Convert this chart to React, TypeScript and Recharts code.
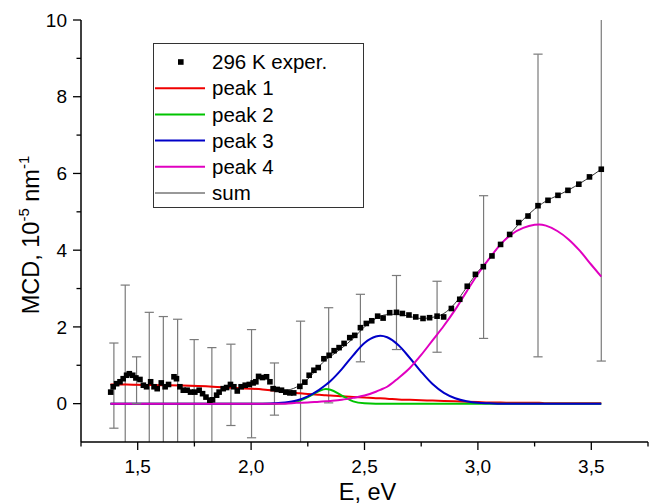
import React from 'react';
import { ComposedChart, Line, Scatter, ErrorBar, XAxis, YAxis, Label } from 'recharts';

// Experimental points (E in eV, MCD in 1e-5 nm^-1)
const expE = [1.381, 1.392, 1.407, 1.422, 1.436, 1.451, 1.463, 1.478, 1.492, 1.510, 1.525, 1.539, 1.557, 1.572, 1.586, 1.604, 1.621, 1.636, 1.660, 1.671, 1.686, 1.701, 1.718, 1.733, 1.752, 1.771, 1.786, 1.801, 1.818, 1.830, 1.848, 1.859, 1.877, 1.892, 1.909, 1.924, 1.939, 1.956, 1.974, 1.992, 2.009, 2.021, 2.033, 2.050, 2.068, 2.083, 2.097, 2.115, 2.134, 2.153, 2.171, 2.188, 2.215, 2.237, 2.256, 2.277, 2.296, 2.321, 2.344, 2.366, 2.388, 2.410, 2.435, 2.457, 2.482, 2.508, 2.532, 2.558, 2.582, 2.611, 2.641, 2.667, 2.696, 2.726, 2.758, 2.787, 2.820, 2.849, 2.883, 2.920, 2.953, 2.989, 3.024, 3.062, 3.100, 3.140, 3.180, 3.221, 3.265, 3.309, 3.353, 3.397, 3.445, 3.492, 3.544];
const expV = [0.30, 0.44, 0.52, 0.57, 0.65, 0.74, 0.78, 0.74, 0.67, 0.63, 0.48, 0.44, 0.57, 0.44, 0.39, 0.54, 0.44, 0.50, 0.70, 0.65, 0.44, 0.35, 0.35, 0.30, 0.30, 0.35, 0.26, 0.17, 0.09, 0.10, 0.22, 0.30, 0.39, 0.42, 0.50, 0.44, 0.33, 0.44, 0.48, 0.50, 0.54, 0.57, 0.71, 0.68, 0.70, 0.57, 0.39, 0.37, 0.35, 0.30, 0.28, 0.28, 0.45, 0.56, 0.74, 0.87, 0.94, 1.17, 1.26, 1.38, 1.46, 1.57, 1.72, 1.78, 1.98, 2.09, 2.16, 2.28, 2.23, 2.37, 2.38, 2.35, 2.31, 2.26, 2.22, 2.24, 2.28, 2.26, 2.48, 2.72, 3.06, 3.37, 3.57, 3.85, 4.15, 4.41, 4.72, 4.89, 5.16, 5.30, 5.43, 5.56, 5.72, 5.91, 6.11];

// Error bars: position, centre value, half-length
const errE = [1.395, 1.445, 1.495, 1.551, 1.613, 1.676, 1.749, 1.827, 1.911, 2.002, 2.103, 2.218, 2.342, 2.482, 2.641, 2.820, 3.025, 3.265, 3.544];
const errV = [0.47, 0.70, 0.61, 0.50, 0.50, 0.55, 0.33, 0.10, 0.49, 0.52, 0.38, 0.45, 1.26, 1.97, 2.375, 2.265, 3.56, 5.165, 6.11];
const errHalf = [1.11, 2.39, 0.61, 1.88, 1.77, 1.65, 1.34, 1.36, 1.06, 1.41, 0.68, 1.70, 1.24, 0.88, 0.965, 0.925, 1.86, 3.945, 5.0];

// Fitted curves
const curveE = [1.38, 1.45, 1.5, 1.6, 1.7, 1.8, 1.9, 2.0, 2.05, 2.1, 2.15, 2.2, 2.25, 2.3, 2.33, 2.35, 2.4, 2.45, 2.5, 2.55, 2.57, 2.6, 2.65, 2.7, 2.75, 2.8, 2.85, 2.9, 2.95, 3.0, 3.05, 3.1, 3.15, 3.2, 3.25, 3.27, 3.3, 3.35, 3.4, 3.45, 3.5, 3.544];
const peak1 = [0.50, 0.50, 0.49, 0.48, 0.47, 0.45, 0.42, 0.39, 0.37, 0.34, 0.31, 0.28, 0.25, 0.23, 0.22, 0.21, 0.19, 0.17, 0.16, 0.14, 0.14, 0.13, 0.11, 0.10, 0.09, 0.08, 0.07, 0.06, 0.05, 0.04, 0.03, 0.03, 0.02, 0.02, 0.02, 0.02, 0.01, 0.01, 0.01, 0.01, 0.01, 0.01];
const peak2 = [0, 0, 0, 0, 0, 0, 0, 0, 0, 0, 0.01, 0.05, 0.17, 0.33, 0.38, 0.36, 0.21, 0.06, 0.01, 0, 0, 0, 0, 0, 0, 0, 0, 0, 0, 0, 0, 0, 0, 0, 0, 0, 0, 0, 0, 0, 0, 0];
const peak3 = [0, 0, 0, 0, 0, 0, 0, 0, 0, 0.01, 0.03, 0.08, 0.19, 0.36, 0.49, 0.59, 0.90, 1.26, 1.58, 1.75, 1.77, 1.73, 1.52, 1.19, 0.83, 0.51, 0.28, 0.14, 0.06, 0.02, 0.01, 0, 0, 0, 0, 0, 0, 0, 0, 0, 0, 0];
const peak4 = [0, 0, 0, 0, 0, 0, 0, 0, 0, 0, 0, 0.02, 0.03, 0.05, 0.06, 0.07, 0.10, 0.15, 0.21, 0.31, 0.36, 0.44, 0.67, 0.93, 1.27, 1.65, 2.03, 2.45, 2.92, 3.38, 3.78, 4.15, 4.42, 4.58, 4.66, 4.67, 4.64, 4.50, 4.28, 3.98, 3.62, 3.31];
const sumFit = [0.50, 0.50, 0.49, 0.48, 0.47, 0.45, 0.42, 0.39, 0.37, 0.35, 0.35, 0.43, 0.64, 0.97, 1.15, 1.23, 1.45, 1.70, 2.00, 2.22, 2.28, 2.32, 2.33, 2.27, 2.22, 2.25, 2.35, 2.62, 3.03, 3.44, 3.78, 4.15, 4.48, 4.80, 5.07, 5.16, 5.28, 5.42, 5.57, 5.74, 5.93, 6.11];

// Axis ticks
const xDomain = [1.25, 3.75];
const yDomain = [-1, 10];
const xTicks = [1.25, 1.5, 1.75, 2.0, 2.25, 2.5, 2.75, 3.0, 3.25, 3.5, 3.75];
const xMajor = [1.5, 2.0, 2.5, 3.0, 3.5];
const xMajorLabels = ['1,5', '2,0', '2,5', '3,0', '3,5'];
const yTicks = [0, 1, 2, 3, 4, 5, 6, 7, 8, 9, 10];
const yMajor = [0, 2, 4, 6, 8, 10];

// Legend
const legendLabels = ['296 K exper.', 'peak 1', 'peak 2', 'peak 3', 'peak 4', 'sum'];

const COLORS = {
  p1: '#f00000',
  p2: '#00c400',
  p3: '#0000c8',
  p4: '#e000c0',
  sum: '#333333',
  err: '#7a7a7a',
};
const FONT = '"Liberation Sans", Arial, sans-serif';

const expData = expE.map((E, i) => ({ E, v: expV[i] }));

// Error bars: stems are clamped to the visible range (the plot clips them there),
// caps are only drawn at ends that lie inside the plot.
const stemData = errE.map((E, i) => {
  const lo = Math.max(errV[i] - errHalf[i], yDomain[0]);
  const hi = Math.min(errV[i] + errHalf[i], yDomain[1]);
  return { E, v: errV[i], err: [errV[i] - lo, hi - errV[i]] };
});
const capData = errE.flatMap((E, i) => {
  const lo = errV[i] - errHalf[i];
  const hi = errV[i] + errHalf[i];
  const out: { E: number; v: number }[] = [];
  if (lo > yDomain[0]) out.push({ E, v: lo });
  if (hi < yDomain[1]) out.push({ E, v: hi });
  return out;
});

const curveData = curveE.map((E, i) => ({
  E,
  p1: peak1[i],
  p2: peak2[i],
  p3: peak3[i],
  p4: peak4[i],
  sum: sumFit[i],
}));

const XTick = (props: any) => {
  const { x, y, payload } = props;
  const idx = xMajor.findIndex((m) => Math.abs(m - payload.value) < 1e-6);
  const major = idx >= 0;
  return (
    <g>
      <line x1={x} x2={x} y1={y} y2={y + (major ? 8 : 4.5)} stroke="#000" strokeWidth={1.3} />
      {major && (
        <text x={x} y={y + 31} textAnchor="middle" fontFamily={FONT} fontSize={19} fill="#000">
          {xMajorLabels[idx]}
        </text>
      )}
    </g>
  );
};

const YTick = (props: any) => {
  const { x, y, payload } = props;
  const major = yMajor.includes(payload.value);
  return (
    <g>
      <line x1={x} x2={x - (major ? 8 : 4.5)} y1={y} y2={y} stroke="#000" strokeWidth={1.3} />
      {major && (
        <text x={x - 14} y={y} dy="0.35em" textAnchor="end" fontFamily={FONT} fontSize={19} fill="#000">
          {payload.value}
        </text>
      )}
    </g>
  );
};

const XTitle = (props: any) => {
  const vb = props.viewBox || { x: 81, y: 442, width: 567, height: 62 };
  return (
    <text x={vb.x + vb.width / 2 + 3} y={vb.y + 58} textAnchor="middle" fontFamily={FONT} fontSize={23.5} fill="#000">
      E, eV
    </text>
  );
};

const YTitle = (props: any) => {
  const vb = props.viewBox || { x: 0, y: 20, width: 81, height: 422 };
  const cx = 39;
  const cy = vb.y + vb.height / 2 + 4;
  return (
    <text transform={`translate(${cx},${cy}) rotate(-90)`} textAnchor="middle" fontFamily={FONT} fontSize={23.5} fill="#000">
      MCD, 10
      <tspan dy={-10} fontSize={15}>-5</tspan>
      <tspan dy={10}> nm</tspan>
      <tspan dy={-10} fontSize={15}>-1</tspan>
    </text>
  );
};

const Square = (props: any) => {
  const { cx, cy } = props;
  if (cx == null || cy == null) return <g />;
  return <rect x={cx - 2.8} y={cy - 2.8} width={5.6} height={5.6} fill="#000" />;
};

const Cap = (props: any) => {
  const { cx, cy } = props;
  if (cx == null || cy == null) return <g />;
  return <line x1={cx - 4.6} x2={cx + 4.6} y1={cy} y2={cy} stroke={COLORS.err} strokeWidth={1.2} />;
};

const NoShape = () => <g />;

const legendColors = [null, COLORS.p1, COLORS.p2, COLORS.p3, COLORS.p4, COLORS.sum];

const LegendBox = () => (
  <div
    style={{
      position: 'absolute',
      left: 153,
      top: 43,
      width: 211,
      height: 165,
      border: '1px solid #333',
      boxSizing: 'border-box',
    }}
  >
    <svg width={209} height={163} style={{ position: 'absolute', left: 0, top: 0 }}>
      {legendLabels.map((lab, i) => {
        const cy = 18 + i * 26.2;
        const c = legendColors[i];
        return (
          <g key={lab}>
            {c == null ? (
              <rect x={24} y={cy - 2.8} width={5.6} height={5.6} fill="#000" />
            ) : (
              <line x1={1} x2={51} y1={cy} y2={cy} stroke={c} strokeWidth={i === 5 ? 1 : 2} />
            )}
            <text x={58} y={cy} dy="0.35em" fontFamily={FONT} fontSize={20.5} fill="#000">
              {lab}
            </text>
          </g>
        );
      })}
    </svg>
  </div>
);

export default function App() {
  return (
    <div style={{ position: 'absolute', left: 0, top: 0, width: 652, height: 504, background: '#fff' }}>
      <ComposedChart width={652} height={504} margin={{ top: 20, right: 4, bottom: 0, left: 0 }}>
        <XAxis
          dataKey="E"
          type="number"
          domain={xDomain}
          ticks={xTicks}
          interval={0}
          allowDataOverflow
          height={62}
          tickSize={0}
          tickMargin={0}
          tickLine={false}
          axisLine={{ stroke: '#000', strokeWidth: 1.5 }}
          tick={<XTick />}
        >
          <Label content={<XTitle />} />
        </XAxis>
        <YAxis
          type="number"
          domain={yDomain}
          ticks={yTicks}
          interval={0}
          allowDataOverflow
          width={81}
          tickSize={0}
          tickMargin={0}
          tickLine={false}
          axisLine={{ stroke: '#000', strokeWidth: 1.5 }}
          tick={<YTick />}
        >
          <Label content={<YTitle />} />
        </YAxis>
        <Scatter data={stemData} dataKey="v" shape={<NoShape />} isAnimationActive={false}>
          <ErrorBar dataKey="err" direction="y" width={0} stroke={COLORS.err} strokeWidth={1.2} isAnimationActive={false} />
        </Scatter>
        <Scatter data={capData} dataKey="v" shape={<Cap />} isAnimationActive={false} />
        <Line data={curveData} dataKey="sum" type="monotone" stroke={COLORS.sum} strokeWidth={1} dot={false} isAnimationActive={false} />
        <Line data={curveData} dataKey="p1" type="monotone" stroke={COLORS.p1} strokeWidth={2} dot={false} isAnimationActive={false} />
        <Line data={curveData} dataKey="p2" type="monotone" stroke={COLORS.p2} strokeWidth={2} dot={false} isAnimationActive={false} />
        <Line data={curveData} dataKey="p3" type="monotone" stroke={COLORS.p3} strokeWidth={2} dot={false} isAnimationActive={false} />
        <Line data={curveData} dataKey="p4" type="monotone" stroke={COLORS.p4} strokeWidth={2} dot={false} isAnimationActive={false} />
        <Scatter data={expData} dataKey="v" shape={<Square />} isAnimationActive={false} />
      </ComposedChart>
      <LegendBox />
    </div>
  );
}
